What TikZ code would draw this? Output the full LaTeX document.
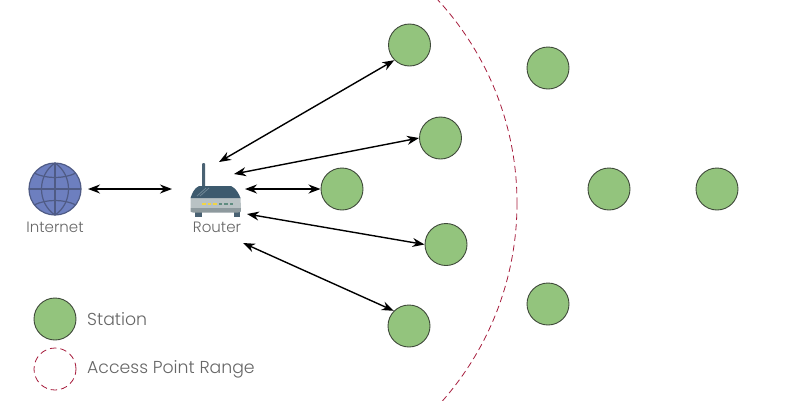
\documentclass[tikz,border=0pt]{standalone}
\usepackage{fontspec}
\setmainfont{Poppins Light}
\usetikzlibrary{arrows.meta}
\definecolor{stfill}{HTML}{93C47D}
\definecolor{stline}{HTML}{3F4A3A}
\definecolor{rangec}{HTML}{A61C3C}
\definecolor{globef}{HTML}{6D7FBF}
\definecolor{globel}{HTML}{4F5B85}
\definecolor{txt}{HTML}{666666}
\definecolor{rtop}{HTML}{3D5A6E}
\definecolor{rstripe}{HTML}{6F8796}
\definecolor{rbody}{HTML}{B9C2C4}
\definecolor{rband}{HTML}{8E9A9E}
\definecolor{rfeet}{HTML}{4A6273}
\definecolor{ledy}{HTML}{F2D544}
\definecolor{ledg}{HTML}{5F8C80}
\tikzset{
 station/.style={circle,draw=stline,fill=stfill,line width=.9pt,minimum size=42pt,inner sep=0pt,outer sep=.5pt},
 link/.style={{Stealth[length=12pt,width=9pt]}-{Stealth[length=12pt,width=9pt]},line width=1.4pt,black},
 rangeline/.style={draw=rangec,line width=.8pt,dash pattern=on 6.5pt off 4pt},
 lbl/.style={text=txt,inner sep=0pt,anchor=west,font=\fontsize{17.3}{20}\selectfont},
 caption/.style={text=txt,inner sep=0pt,font=\fontsize{15}{17}\selectfont},
 gl/.style={draw=globel,line width=1.2pt}
}
\begin{document}
\begin{tikzpicture}[x=1pt,y=-1pt]
\useasboundingbox (0,0) rectangle (800,400);
% range arc
\begin{scope}
\clip (300,0) rectangle (800,400);
\draw[rangeline] (217,203) circle[radius=300];
\end{scope}
% globe
\node[circle,fill=globef,draw=globel,line width=1.2pt,minimum size=52pt,inner sep=0pt] (inet) at (55,189) {};
\draw[gl] (29,189) -- (81,189) (55,163) -- (55,215);
\draw[gl] (55,163) .. controls (37,175) and (37,203) .. (55,215);
\draw[gl] (55,163) .. controls (73,175) and (73,203) .. (55,215);
\draw[gl] (34,173) .. controls (46,179) and (64,179) .. (76,173);
\draw[gl] (34,205) .. controls (46,199) and (64,199) .. (76,205);
\node[caption] (inetl) at (55,227) {Internet};
% router
\fill[rfeet,rounded corners=1pt] (202,163) rectangle (205.2,190);
\fill[rfeet] (195,212) rectangle (202,217);
\fill[rfeet] (233.5,212) rectangle (240,217);
\fill[rbody] (190.5,198) -- (240.5,198) -- (241,208) -- (190.5,208) -- cycle;
\fill[rband] (190.5,208) -- (241,208) .. controls (241,212.5) .. (238,212.5) -- (193,212.5) .. controls (190.5,212.5) .. (190.5,208) -- cycle;
\fill[rtop] (190.5,198) .. controls (192,194) and (194,188) .. (199,186) -- (231,186) .. controls (236,188) and (239,194) .. (240.5,198) -- cycle;
\draw[rstripe,line width=.8pt] (197,196) -- (206,188) (200,196) -- (209,188);
\foreach \x/\c in {204/ledy,209.5/ledy,215/ledy,220.5/ledg,226/ledg,231.5/ledg}
  \fill[\c] (\x-1.8,203) rectangle (\x+1.8,205);
\node[caption] (routerl) at (217,227) {Router};
\coordinate (rt1) at (219,162);
\coordinate (rt2) at (234,174);
\coordinate (rt3) at (245,189);
\coordinate (rt4) at (247,214);
\coordinate (rt5) at (243,243);
\coordinate (ig) at (88,189);
\coordinate (rg) at (172,189);
% stations
\node[station] (s1) at (409.5,45) {};
\node[station] (s2) at (440.5,138) {};
\node[station] (s3) at (342,189) {};
\node[station] (s4) at (446,244.5) {};
\node[station] (s5) at (409,326) {};
\node[station] (s6) at (548,68) {};
\node[station] (s7) at (609,189) {};
\node[station] (s8) at (717,189) {};
\node[station] (s9) at (548,304) {};
% links
\draw[link] (ig) -- (rg);
\draw[link] (rt1) -- (s1.225);
\draw[link] (rt2) -- (s2.west);
\draw[link] (rt3) -- (s3.west);
\draw[link] (rt4) -- (s4.west);
\draw[link] (rt5) -- (s5.135);
% legend
\node[station] (ls) at (55,319) {};
\node[circle,rangeline,minimum size=42pt,inner sep=0pt] (lr) at (55,369) {};
\node[lbl] (lst) at (87,319) {Station};
\node[lbl] (lrt) at (87,369) {Access Point Range};
\end{tikzpicture}
\end{document}
